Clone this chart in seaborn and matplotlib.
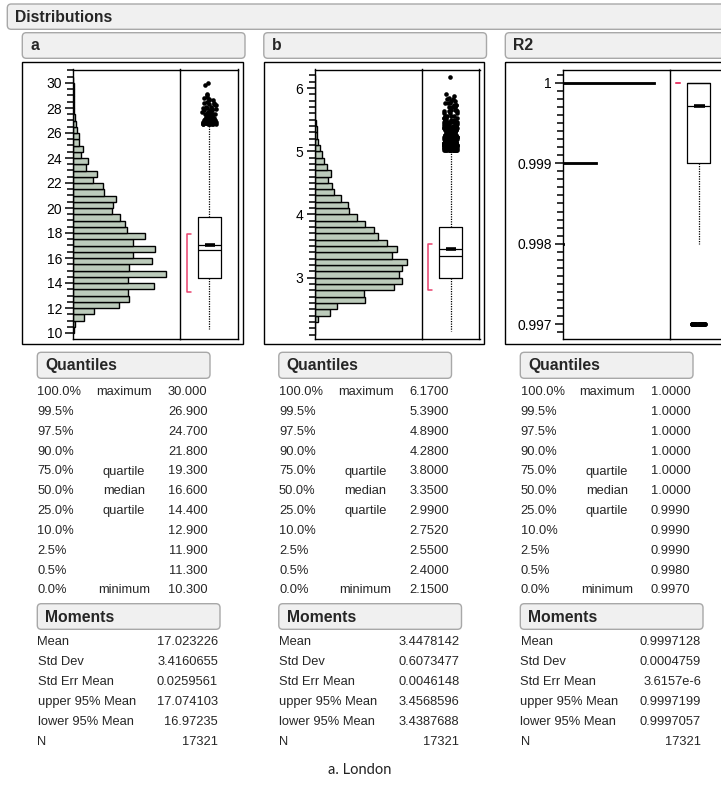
import numpy as np
import matplotlib
matplotlib.use('Agg')
import matplotlib.pyplot as plt
from matplotlib.patches import FancyBboxPatch, Rectangle
from matplotlib.transforms import Affine2D
from matplotlib.ticker import MultipleLocator, FuncFormatter
import seaborn as sns

W, H = 721, 786

# ---------------- data ----------------
# histogram of a : bins of 0.5 starting at 10.0
a_bin_start, a_bin_w = 10.0, 0.5
a_counts = [14, 23, 150, 286, 627, 763, 749, 1090, 749, 1258, 763, 1071, 817, 1103,
            817, 967, 726, 708, 640, 522, 545, 577, 422, 409, 272, 318, 168, 204,
            100, 136, 82, 82, 54, 36, 23, 14, 9, 5, 4, 3, 2]
# histogram of b : bins of 0.1 starting at 2.1
b_bin_start, b_bin_w = 2.1, 0.1
b_counts = [9, 14, 52, 212, 315, 714, 700, 1119, 1227, 1189, 1227, 1297, 1090, 1156,
            1020, 893, 837, 714, 592, 484, 470, 367, 273, 240, 188, 226, 174, 136,
            103, 71, 56, 33, 33, 24, 14, 9, 9, 5, 3, 0, 1]
# R2 only takes a few distinct values
r2_values = [0.997, 0.998, 0.999, 1.0]
r2_counts = [31, 120, 4625, 12545]

quant_pct = ['100.0%', '99.5%', '97.5%', '90.0%', '75.0%', '50.0%', '25.0%',
             '10.0%', '2.5%', '0.5%', '0.0%']
quant_name = ['maximum', '', '', '', 'quartile', 'median', 'quartile', '', '', '', 'minimum']
a_quant = [30.0, 26.9, 24.7, 21.8, 19.3, 16.6, 14.4, 12.9, 11.9, 11.3, 10.3]
b_quant = [6.17, 5.39, 4.89, 4.28, 3.80, 3.35, 2.99, 2.752, 2.55, 2.40, 2.15]
r2_quant = [1.0, 1.0, 1.0, 1.0, 1.0, 1.0, 0.999, 0.999, 0.999, 0.998, 0.997]

moment_names = ['Mean', 'Std Dev', 'Std Err Mean', 'upper 95% Mean', 'lower 95% Mean', 'N']
a_moments = [17.023226, 3.4160655, 0.0259561, 17.074103, 16.97235, 17321]
b_moments = [3.4478142, 0.6073477, 0.0046148, 3.4568596, 3.4387688, 17321]
r2_moments = [0.9997128, 0.0004759, 3.6157e-6, 0.9997199, 0.9997057, 17321]

# whisker ends and shortest half
a_whis = (10.3, 26.6)
b_whis = (2.15, 5.01)
r2_whis = (0.998, 1.0)
a_short = (13.3, 17.9)
b_short = (2.80, 3.54)
r2_short = (1.0, 1.0)

# outliers beyond the whiskers (value, how many)
a_out_vals = [26.7, 26.8, 26.9, 27.0, 27.1, 27.2, 27.3, 27.4, 27.5, 27.6, 27.7, 27.8,
              27.9, 28.0, 28.1, 28.2, 28.3, 28.4, 28.5, 28.6, 28.7, 28.8, 28.9, 29.0,
              29.1, 29.8, 30.0]
a_out_counts = [8, 7, 7, 6, 5, 5, 4, 4, 4, 3, 3, 3, 3, 2, 2, 2, 2, 2, 1, 2, 1, 1, 1, 1,
                1, 1, 1]
b_out_vals = [5.02, 5.05, 5.08, 5.1, 5.13, 5.16, 5.2, 5.23, 5.26, 5.3, 5.33, 5.36, 5.4,
              5.43, 5.46, 5.5, 5.53, 5.56, 5.6, 5.63, 5.66, 5.7, 5.73, 5.76, 5.79, 5.82,
              5.85, 5.88, 5.91, 6.17]
b_out_counts = [20, 20, 20, 18, 18, 18, 11, 11, 11, 11, 11, 11, 8, 8, 8, 5, 5, 4, 3, 3,
                3, 3, 3, 3, 2, 2, 1, 1, 1, 1]
r2_out_vals = [0.997]
r2_out_counts = [31]

caption = 'a. London'

# ---------------- style ----------------
sns.set_style('white')
plt.rcParams['font.family'] = ['Liberation Sans', 'DejaVu Sans']
bar_color = '#bccbbb'
red = '#e8406c'
hdr_face = '#f0f0f0'
hdr_edge = '#a8a8a8'

fig = plt.figure(figsize=(W / 100, H / 100), dpi=100)
px = Affine2D().scale(1 / W, -1 / H).translate(0, 1) + fig.transFigure


def add_ax(x0, y0, x1, y1):
    return fig.add_axes([x0 / W, 1 - y1 / H, (x1 - x0) / W, (y1 - y0) / H])


def ftext(x, y, s, **kw):
    fig.text(x, y, s, transform=px, va='center', **kw)


def header(x0, y0, x1, y1, label):
    fig.add_artist(FancyBboxPatch((x0, y0), x1 - x0, y1 - y0,
                                  boxstyle='round,pad=0,rounding_size=4', transform=px,
                                  facecolor=hdr_face, edgecolor=hdr_edge, lw=1))
    ftext(x0 + 8, (y0 + y1) / 2 + 0.5, label, fontweight='bold', fontsize=11.3)


def fmt_moment(v):
    return '{:.8g}'.format(v).replace('e-0', 'e-')


header(7.3, 4, 760, 29.3, 'Distributions')

panels = [
    dict(name='a', ox=0, hx=73.3, ylim=(9.52, 31.08), major=2, minor=0.5,
         quant=a_quant, qfmt='{:.3f}', mom=a_moments, whis=a_whis, short=a_short,
         out=(a_out_vals, a_out_counts)),
    dict(name='b', ox=241.5, hx=314.5, ylim=(2.030, 6.293), major=1, minor=0.1,
         quant=b_quant, qfmt='{:.4f}', mom=b_moments, whis=b_whis, short=b_short,
         out=(b_out_vals, b_out_counts)),
    dict(name='R2', ox=483, hx=562.7, ylim=(0.996817, 1.000164), major=0.001, minor=0.0001,
         quant=r2_quant, qfmt='{:.4f}', mom=r2_moments, whis=r2_whis, short=r2_short,
         out=(r2_out_vals, r2_out_counts)),
]

top, bot = 69.5, 339.0
np.random.seed(7)

for p in panels:
    ox = p['ox']
    header(22.3 + ox, 32.7, 245 + ox, 58.3, p['name'])

    hx0 = p['hx']
    hx1 = hx0 + 107
    bx1 = hx1 + 58
    fig.add_artist(Rectangle((22 + ox, 62), bx1 + 4.5 - 22 - ox, 344 - 62, transform=px,
                             facecolor='none', edgecolor='black', lw=1))

    hax = add_ax(hx0, top, hx1, bot)
    bax = add_ax(hx1, top, bx1, bot)
    bax.patch.set_visible(False)

    # histogram
    if p['name'] == 'a':
        edges = np.round(a_bin_start + a_bin_w * np.arange(len(a_counts) + 1), 4)
        sns.histplot(y=edges[:-1] + a_bin_w / 2, weights=a_counts, bins=edges.tolist(),
                     ax=hax, color=bar_color, edgecolor='black', linewidth=1.0, alpha=1)
        hax.set_xlim(0, max(a_counts) * 1.155)
    elif p['name'] == 'b':
        edges = np.round(b_bin_start + b_bin_w * np.arange(len(b_counts) + 1), 4)
        sns.histplot(y=edges[:-1] + b_bin_w / 2, weights=b_counts, bins=edges.tolist(),
                     ax=hax, color=bar_color, edgecolor='black', linewidth=1.0, alpha=1)
        hax.set_xlim(0, max(b_counts) * 1.16)
    else:
        half = 0.0000125
        edges = sorted([v - half for v in r2_values] + [v + half for v in r2_values])
        sns.histplot(y=r2_values, weights=r2_counts, bins=edges, ax=hax,
                     color='black', edgecolor='black', linewidth=0.6, alpha=1)
        hax.set_xlim(0, max(r2_counts) * 1.163)

    hax.set_ylim(*p['ylim'])
    hax.set_xticks([])
    hax.set_xlabel('')
    hax.set_ylabel('')
    hax.yaxis.set_major_locator(MultipleLocator(p['major']))
    hax.yaxis.set_minor_locator(MultipleLocator(p['minor']))
    hax.yaxis.set_major_formatter(FuncFormatter(lambda v, pos: '{:g}'.format(round(v, 6))))
    hax.tick_params(axis='y', which='major', left=True, length=6, width=1.1, pad=2,
                    labelsize=10, color='black', labelcolor='black', direction='out')
    hax.tick_params(axis='y', which='minor', left=True, length=4, width=1.1, color='black',
                    direction='out')
    for s in hax.spines.values():
        s.set_color('black')
        s.set_linewidth(1.0)

    # box plot with outliers
    vals, cnts = p['out']
    sns.stripplot(y=np.repeat(vals, cnts), ax=bax, color='black', size=3.3, jitter=0.24,
                  linewidth=0)
    q = p['quant']
    stats = dict(med=q[5], q1=q[6], q3=q[4], whislo=p['whis'][0], whishi=p['whis'][1],
                 fliers=[])
    bax.bxp([stats], positions=[0], widths=0.8, showfliers=False, showcaps=False,
            manage_ticks=False,
            boxprops=dict(color='black', lw=0.9),
            whiskerprops=dict(color='black', lw=0.9, linestyle=(0, (1, 1))),
            medianprops=dict(color='black', lw=0.9))
    mean = p['mom'][0]
    bax.hlines(mean, -0.4, 0.4, colors='black', lw=0.9)
    bax.hlines(mean, -0.15, 0.2, colors='black', lw=2.6)
    lo, hi = p['short']
    bax.plot([-0.63, -0.77, -0.77, -0.63], [hi, hi, lo, lo], color=red, lw=1.1)
    bax.set_xlim(-1, 1)
    bax.set_ylim(*p['ylim'])
    bax.set_xticks([])
    bax.set_yticks([])
    bax.set_xlabel('')
    bax.set_ylabel('')
    bax.spines['left'].set_visible(False)
    for s in bax.spines.values():
        s.set_color('black')
        s.set_linewidth(1.0)

    # Quantiles table
    header(37.3 + ox, 352.3, 210 + ox, 378.3, 'Quantiles')
    for i in range(len(quant_pct)):
        y = 392.3 + i * 19.8
        ftext(37.5 + ox, y, quant_pct[i], fontsize=9.3)
        ftext(124 + ox, y, quant_name[i], fontsize=9.3, ha='center')
        ftext(207.5 + ox, y, p['qfmt'].format(q[i]), fontsize=9.3, ha='right')

    # Moments table
    header(37.3 + ox, 603.7, 220 + ox, 629.3, 'Moments')
    for i, nm in enumerate(moment_names):
        y = 642.3 + i * 20
        ftext(37.5 + ox, y, nm, fontsize=9.3)
        ftext(218 + ox, y, fmt_moment(p['mom'][i]), fontsize=9.3, ha='right')

fig.text(359.5, 770, caption, transform=px, ha='center', va='center', fontsize=10.5,
         family=['Lato', 'DejaVu Sans'], color='#222222')

fig.savefig('out.png', dpi=100)
